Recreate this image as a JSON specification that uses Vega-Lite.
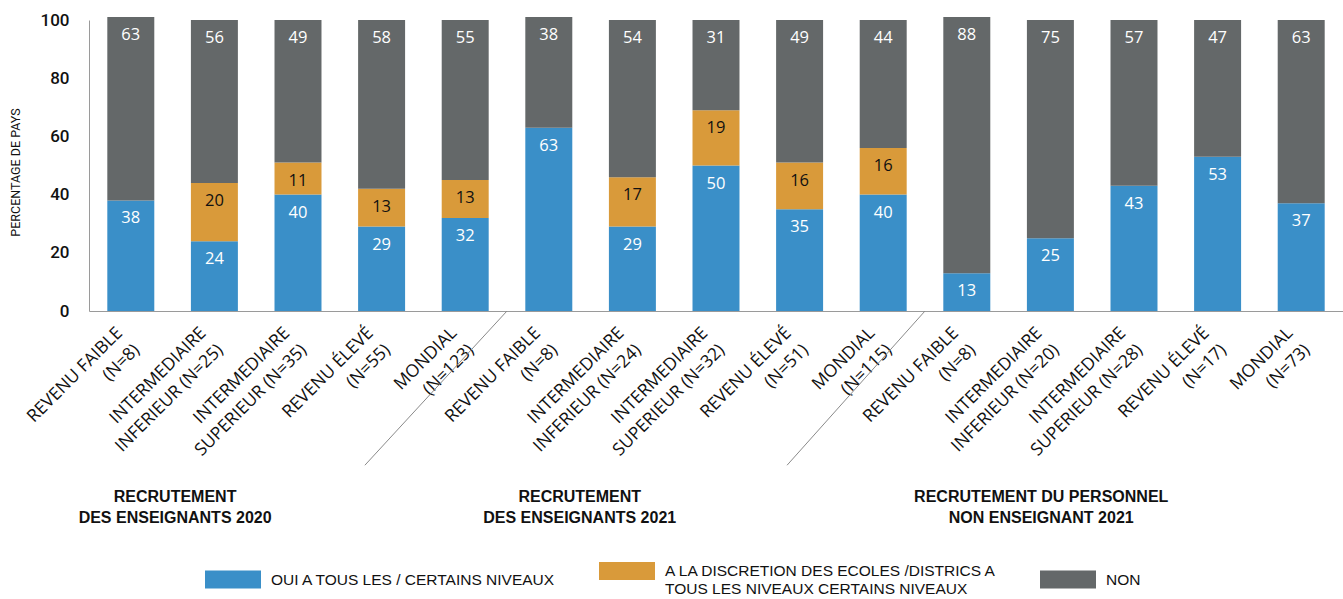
{
  "$schema": "https://vega.github.io/schema/vega-lite/v6.json",
  "width": 1254,
  "height": 291,
  "autosize": {"type": "none"},
  "padding": {"left": 89, "top": 20, "right": 0, "bottom": 288},
  "background": "white",
  "config": {"view": {"stroke": null}, "font": "Open Sans"},
  "datasets": {
    "main": [
      {"bar": "A|REVENU FAIBLE|(N=8)", "cat": "OUI A TOUS LES / CERTAINS NIVEAUX", "v": 38},
      {"bar": "A|REVENU FAIBLE|(N=8)", "cat": "NON", "v": 63},
      {"bar": "A|INTERMEDIAIRE|INFERIEUR (N=25)", "cat": "OUI A TOUS LES / CERTAINS NIVEAUX", "v": 24},
      {"bar": "A|INTERMEDIAIRE|INFERIEUR (N=25)", "cat": "A LA DISCRETION DES ECOLES /DISTRICS A|TOUS LES NIVEAUX CERTAINS NIVEAUX", "v": 20},
      {"bar": "A|INTERMEDIAIRE|INFERIEUR (N=25)", "cat": "NON", "v": 56},
      {"bar": "A|INTERMEDIAIRE|SUPERIEUR (N=35)", "cat": "OUI A TOUS LES / CERTAINS NIVEAUX", "v": 40},
      {"bar": "A|INTERMEDIAIRE|SUPERIEUR (N=35)", "cat": "A LA DISCRETION DES ECOLES /DISTRICS A|TOUS LES NIVEAUX CERTAINS NIVEAUX", "v": 11},
      {"bar": "A|INTERMEDIAIRE|SUPERIEUR (N=35)", "cat": "NON", "v": 49},
      {"bar": "A|REVENU ÉLEVÉ|(N=55)", "cat": "OUI A TOUS LES / CERTAINS NIVEAUX", "v": 29},
      {"bar": "A|REVENU ÉLEVÉ|(N=55)", "cat": "A LA DISCRETION DES ECOLES /DISTRICS A|TOUS LES NIVEAUX CERTAINS NIVEAUX", "v": 13},
      {"bar": "A|REVENU ÉLEVÉ|(N=55)", "cat": "NON", "v": 58},
      {"bar": "A|MONDIAL|(N=123)", "cat": "OUI A TOUS LES / CERTAINS NIVEAUX", "v": 32},
      {"bar": "A|MONDIAL|(N=123)", "cat": "A LA DISCRETION DES ECOLES /DISTRICS A|TOUS LES NIVEAUX CERTAINS NIVEAUX", "v": 13},
      {"bar": "A|MONDIAL|(N=123)", "cat": "NON", "v": 55},
      {"bar": "B|REVENU FAIBLE|(N=8)", "cat": "OUI A TOUS LES / CERTAINS NIVEAUX", "v": 63},
      {"bar": "B|REVENU FAIBLE|(N=8)", "cat": "NON", "v": 38},
      {"bar": "B|INTERMEDIAIRE|INFERIEUR (N=24)", "cat": "OUI A TOUS LES / CERTAINS NIVEAUX", "v": 29},
      {"bar": "B|INTERMEDIAIRE|INFERIEUR (N=24)", "cat": "A LA DISCRETION DES ECOLES /DISTRICS A|TOUS LES NIVEAUX CERTAINS NIVEAUX", "v": 17},
      {"bar": "B|INTERMEDIAIRE|INFERIEUR (N=24)", "cat": "NON", "v": 54},
      {"bar": "B|INTERMEDIAIRE|SUPERIEUR (N=32)", "cat": "OUI A TOUS LES / CERTAINS NIVEAUX", "v": 50},
      {"bar": "B|INTERMEDIAIRE|SUPERIEUR (N=32)", "cat": "A LA DISCRETION DES ECOLES /DISTRICS A|TOUS LES NIVEAUX CERTAINS NIVEAUX", "v": 19},
      {"bar": "B|INTERMEDIAIRE|SUPERIEUR (N=32)", "cat": "NON", "v": 31},
      {"bar": "B|REVENU ÉLEVÉ|(N=51)", "cat": "OUI A TOUS LES / CERTAINS NIVEAUX", "v": 35},
      {"bar": "B|REVENU ÉLEVÉ|(N=51)", "cat": "A LA DISCRETION DES ECOLES /DISTRICS A|TOUS LES NIVEAUX CERTAINS NIVEAUX", "v": 16},
      {"bar": "B|REVENU ÉLEVÉ|(N=51)", "cat": "NON", "v": 49},
      {"bar": "B|MONDIAL|(N=115)", "cat": "OUI A TOUS LES / CERTAINS NIVEAUX", "v": 40},
      {"bar": "B|MONDIAL|(N=115)", "cat": "A LA DISCRETION DES ECOLES /DISTRICS A|TOUS LES NIVEAUX CERTAINS NIVEAUX", "v": 16},
      {"bar": "B|MONDIAL|(N=115)", "cat": "NON", "v": 44},
      {"bar": "C|REVENU FAIBLE|(N=8)", "cat": "OUI A TOUS LES / CERTAINS NIVEAUX", "v": 13},
      {"bar": "C|REVENU FAIBLE|(N=8)", "cat": "NON", "v": 88},
      {"bar": "C|INTERMEDIAIRE|INFERIEUR (N=20)", "cat": "OUI A TOUS LES / CERTAINS NIVEAUX", "v": 25},
      {"bar": "C|INTERMEDIAIRE|INFERIEUR (N=20)", "cat": "NON", "v": 75},
      {"bar": "C|INTERMEDIAIRE|SUPERIEUR (N=28)", "cat": "OUI A TOUS LES / CERTAINS NIVEAUX", "v": 43},
      {"bar": "C|INTERMEDIAIRE|SUPERIEUR (N=28)", "cat": "NON", "v": 57},
      {"bar": "C|REVENU ÉLEVÉ|(N=17)", "cat": "OUI A TOUS LES / CERTAINS NIVEAUX", "v": 53},
      {"bar": "C|REVENU ÉLEVÉ|(N=17)", "cat": "NON", "v": 47},
      {"bar": "C|MONDIAL|(N=73)", "cat": "OUI A TOUS LES / CERTAINS NIVEAUX", "v": 37},
      {"bar": "C|MONDIAL|(N=73)", "cat": "NON", "v": 63}
    ]
  },
  "layer": [
    {
      "data": {"name": "main"},
      "transform": [
        {"calculate": "datum.cat === 'NON' ? 2 : (indexof(datum.cat, 'OUI') === 0 ? 0 : 1)", "as": "o"},
        {"stack": "v", "groupby": ["bar"], "sort": [{"field": "o", "order": "ascending"}], "as": ["y0", "y1"]}
      ],
      "layer": [
        {
          "mark": {"type": "bar"},
          "encoding": {
            "x": {
              "field": "bar", "type": "nominal", "sort": null,
              "scale": {"paddingInner": 0.438, "paddingOuter": 0.219},
              "axis": {
                "title": null,
                "labelExpr": "slice(split(datum.label, '|'), 1)",
                "labelAngle": -45, "labelAlign": "right", "labelBaseline": "middle",
                "labelPadding": 19, "labelOffset": -11, "ticks": false, "domainColor": "#9a9a9a",
                "labelFont": "Open Sans", "labelFontSize": 17.5, "labelColor": "#111111",
                "labelLimit": 0, "labelLineHeight": 24
              }
            },
            "y": {
              "field": "y0", "type": "quantitative",
              "scale": {"domain": [0, 100], "nice": false},
              "axis": {
                "values": [0, 20, 40, 60, 80, 100], "ticks": false, "grid": false,
                "domainColor": "#9a9a9a",
                "labelFont": "Roboto", "labelFontSize": 17, "labelFontWeight": 500, "labelColor": "#111111",
                "labelPadding": 20,
                "title": "PERCENTAGE DE PAYS", "titleFont": "Roboto",
                "titleFontSize": 12.5, "titleFontWeight": "normal", "titleColor": "#111111",
                "titlePadding": 18, "titleY": 152
              }
            },
            "y2": {"field": "y1"},
            "color": {
              "field": "cat", "type": "nominal",
              "sort": ["OUI A TOUS LES / CERTAINS NIVEAUX", "A LA DISCRETION DES ECOLES /DISTRICS A|TOUS LES NIVEAUX CERTAINS NIVEAUX", "NON"],
              "scale": {
                "domain": ["OUI A TOUS LES / CERTAINS NIVEAUX", "A LA DISCRETION DES ECOLES /DISTRICS A|TOUS LES NIVEAUX CERTAINS NIVEAUX", "NON"],
                "range": ["#3a8fc8", "#d99a3a", "#646869"]
              },
              "legend": {
                "orient": "none", "legendX": 116, "legendY": 523,
                "direction": "horizontal", "title": null,
                "symbolType": "M-1,-0.32H1V0.32H-1Z", "symbolSize": 3136,
                "symbolStrokeWidth": 0, "symbolOpacity": 1,
                "labelExpr": "split(datum.label, '|')",
                "labelFont": "Liberation Sans", "labelFontSize": 15.5, "labelColor": "#111111",
                "labelLimit": 0, "labelOffset": 10, "columnPadding": 42, "labelLineHeight": 20
              }
            }
          }
        },
        {
          "mark": {"type": "text", "font": "Open Sans", "fontSize": 16.5, "baseline": "middle", "dy": 18},
          "encoding": {
            "x": {"field": "bar", "type": "nominal", "sort": null},
            "y": {"field": "y1", "type": "quantitative", "scale": {"domain": [0, 100], "nice": false}},
            "text": {"field": "v", "type": "quantitative"},
            "color": {"condition": {"test": "datum.o === 1", "value": "#111111"}, "value": "white"}
          }
        }
      ]
    },
    {
      "data": {"values": [{}]},
      "mark": {"type": "rule", "color": "#8a8a8a", "strokeWidth": 1},
      "encoding": {
        "x": {"datum": 4.5, "type": "quantitative", "scale": {"domain": [-0.5, 14.5], "nice": false, "zero": false}, "axis": null},
        "x2": {"datum": 2.8},
        "y": {"datum": 0, "type": "quantitative", "scale": {"domain": [0, 100], "nice": false}, "axis": null},
        "y2": {"datum": -53}
      }
    },
    {
      "data": {"values": [{}]},
      "mark": {"type": "rule", "color": "#8a8a8a", "strokeWidth": 1},
      "encoding": {
        "x": {"datum": 9.5, "type": "quantitative", "scale": {"domain": [-0.5, 14.5], "nice": false, "zero": false}, "axis": null},
        "x2": {"datum": 7.85},
        "y": {"datum": 0, "type": "quantitative", "scale": {"domain": [0, 100], "nice": false}, "axis": null},
        "y2": {"datum": -53}
      }
    },
    {
      "data": {"values": [{}]},
      "mark": {"type": "text", "font": "Liberation Sans", "fontWeight": "bold", "fontSize": 16, "lineHeight": 21, "align": "center", "baseline": "middle", "color": "#111111"},
      "encoding": {
        "x": {"datum": 0.53, "type": "quantitative", "scale": {"domain": [-0.5, 14.5], "nice": false, "zero": false}, "axis": null},
        "y": {"datum": -63.9, "type": "quantitative", "scale": {"domain": [0, 100], "nice": false}, "axis": null},
        "text": {"value": ["RECRUTEMENT", "DES ENSEIGNANTS 2020"]}
      }
    },
    {
      "data": {"values": [{}]},
      "mark": {"type": "text", "font": "Liberation Sans", "fontWeight": "bold", "fontSize": 16, "lineHeight": 21, "align": "center", "baseline": "middle", "color": "#111111"},
      "encoding": {
        "x": {"datum": 5.37, "type": "quantitative", "scale": {"domain": [-0.5, 14.5], "nice": false, "zero": false}, "axis": null},
        "y": {"datum": -63.9, "type": "quantitative", "scale": {"domain": [0, 100], "nice": false}, "axis": null},
        "text": {"value": ["RECRUTEMENT", "DES ENSEIGNANTS 2021"]}
      }
    },
    {
      "data": {"values": [{}]},
      "mark": {"type": "text", "font": "Liberation Sans", "fontWeight": "bold", "fontSize": 16, "lineHeight": 21, "align": "center", "baseline": "middle", "color": "#111111"},
      "encoding": {
        "x": {"datum": 10.89, "type": "quantitative", "scale": {"domain": [-0.5, 14.5], "nice": false, "zero": false}, "axis": null},
        "y": {"datum": -63.9, "type": "quantitative", "scale": {"domain": [0, 100], "nice": false}, "axis": null},
        "text": {"value": ["RECRUTEMENT DU PERSONNEL", "NON ENSEIGNANT  2021"]}
      }
    }
  ],
  "resolve": {"scale": {"x": "independent", "y": "independent"}, "axis": {"x": "independent", "y": "independent"}}
}
